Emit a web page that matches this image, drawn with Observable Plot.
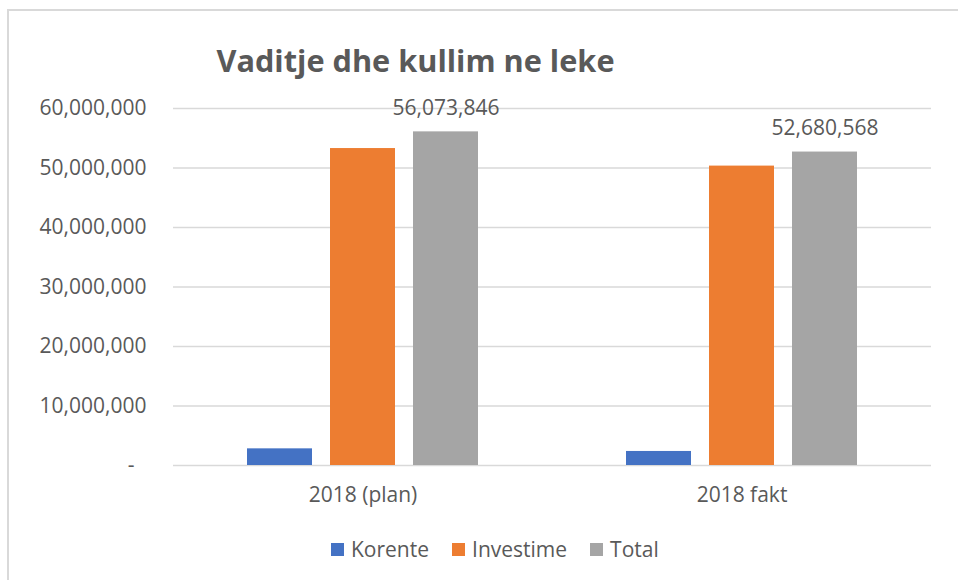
<!DOCTYPE html>
<html>
<head>
<meta charset="utf-8">
<script src="https://cdn.jsdelivr.net/npm/d3@7"></script>
<script src="https://cdn.jsdelivr.net/npm/@observablehq/plot@0.6"></script>
<style>
  html, body { margin: 0; padding: 0; background: #fff; }
  #wrap { position: relative; width: 958px; height: 580px; overflow: hidden; font-family: "Open Sans", sans-serif; color: #595959; }
  #frame { position: absolute; left: 7px; top: 9px; width: 1000px; height: 1000px; border: 2px solid #d9d9d9; box-sizing: border-box; }
  #title { position: absolute; left: 0; top: 45px; width: 831px; text-align: center; font-size: 30.7px; line-height: 30px; font-weight: 700; color: #595959; white-space: nowrap; }
  #legend { position: absolute; left: 331px; top: 537px; display: flex; align-items: center; font-size: 21px; line-height: 24px; color: #595959; }
  .item { display: flex; align-items: center; margin-right: 23px; }
  .sw { width: 13px; height: 13px; margin-right: 7px; }
  #chart { position: absolute; left: 0; top: 0; }
</style>
</head>
<body>
<div id="wrap">
  <div id="frame"></div>
  <div id="chart"></div>
  <div id="title">Vaditje dhe kullim ne leke</div>
  <div id="legend"></div>
</div>
<script>
const categories = ["2018 (plan)", "2018 fakt"];
const series = ["Korente", "Investime", "Total"];
const korente = [2800000, 2360000];
const investime = [53270000, 50320000];
const total = [56073846, 52680568];
const colors = ["#4472C4", "#ED7D31", "#A5A5A5"];
const yTicks = [0, 10000000, 20000000, 30000000, 40000000, 50000000, 60000000];

const valuesBySeries = { Korente: korente, Investime: investime, Total: total };
const data = [];
categories.forEach((c, i) => {
  series.forEach(s => data.push({ cat: c, series: s, value: valuesBySeries[s][i] }));
});

const fmt = d3.format(",");
const yFormat = d => d === 0 ? "-\u2007" : fmt(d);

const chart = Plot.plot({
  width: 958,
  height: 580,
  marginTop: 108,
  marginBottom: 115,
  marginLeft: 172,
  marginRight: 27,
  style: { fontFamily: "Open Sans, sans-serif", fontSize: "21px", color: "#595959", background: "transparent", overflow: "visible" },
  fx: { domain: categories, padding: 0, label: null, tickSize: 0, tickPadding: 22 },
  x: { domain: series, axis: null, paddingInner: 0.214, paddingOuter: 0.866 },
  y: { domain: [0, 60000000], ticks: yTicks, tickFormat: yFormat, label: null, tickSize: 0, tickPadding: 27 },
  color: { domain: series, range: colors },
  marks: [
    Plot.gridY(yTicks, { stroke: "#d9d9d9", strokeOpacity: 1, strokeWidth: 1.5 }),
    Plot.barY(data, { fx: "cat", x: "series", y: "value", fill: "series" }),
    Plot.text(data.filter(d => d.series === "Total"), {
      fx: "cat", x: "series", y: "value", text: d => fmt(d.value),
      dy: -24, fill: "#595959", fontSize: 21
    })
  ]
});
document.getElementById("chart").appendChild(chart);

const legend = document.getElementById("legend");
series.forEach((s, i) => {
  const item = document.createElement("div");
  item.className = "item";
  const sw = document.createElement("div");
  sw.className = "sw";
  sw.style.background = colors[i];
  const t = document.createElement("span");
  t.textContent = s;
  item.appendChild(sw);
  item.appendChild(t);
  legend.appendChild(item);
});
</script>
</body>
</html>
